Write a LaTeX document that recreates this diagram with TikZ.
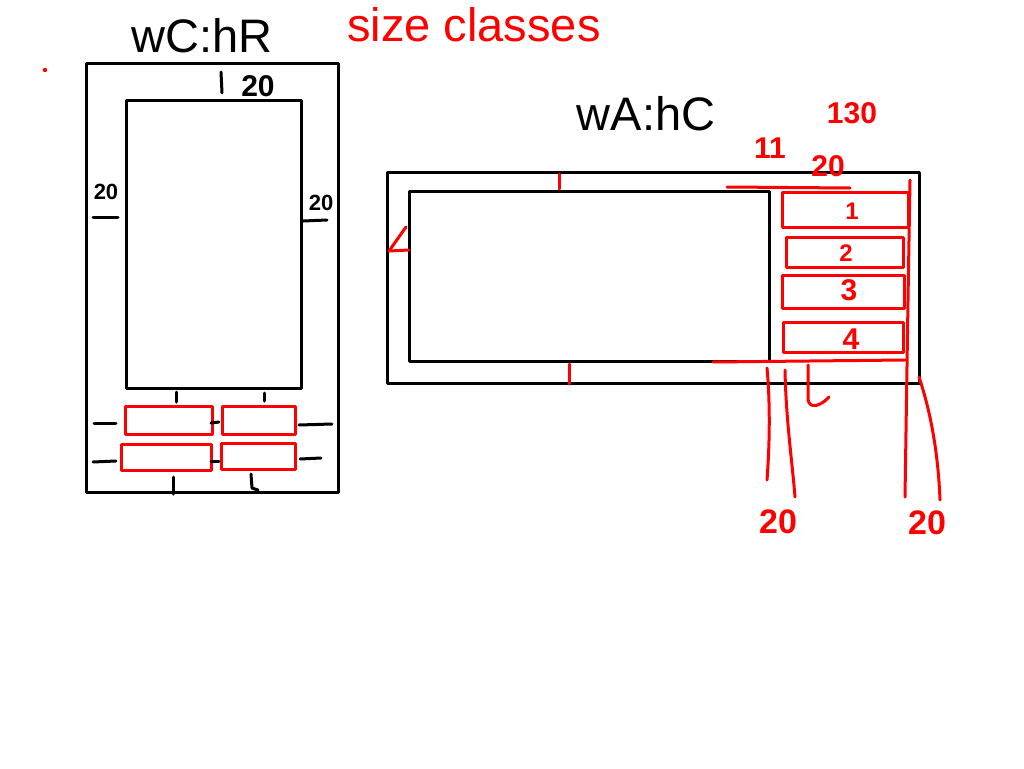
\documentclass[tikz,border=0pt]{standalone}
\usepackage{fontspec}
\setmainfont{Liberation Sans}
\definecolor{inkred}{HTML}{FF0000}
\tikzset{
  title/.style={font=\fontsize{47}{50}\selectfont, inner sep=0pt},
  hand/.style={font=\bfseries\fontsize{30}{32}\selectfont, inner sep=0pt},
  slot/.style={draw=inkred, line width=3pt},
}
\begin{document}
\begin{tikzpicture}[x=1pt, y=-1pt, line width=3pt, line cap=round, line join=round]
  \useasboundingbox (0,0) rectangle (1024,768);
  % titles
  \node[title] (wchr) at (202,36) {wC:hR};
  \node[title, text=inkred] (sizecl) at (474,25) {size classes};
  \node[title] (wahc) at (646,114) {wA:hC};
  \fill[inkred] (45,70) circle (2.2);

  % compact width, regular height
  \draw (86,63) rectangle (338,492);
  \draw (126,100) rectangle (301,388);
  \draw[slot] (125,406) rectangle (212,434);
  \draw[slot] (222,406) rectangle (295,434);
  \draw[slot] (121,444) rectangle (211,470);
  \draw[slot] (221,443) rectangle (295,469);
  % margin ticks
  \draw (221,72) -- (222,93);
  \node[hand] (mtop) at (258,86) {20};
  \node[hand, font=\bfseries\fontsize{22}{24}\selectfont] (mleft) at (106,192) {20};
  \draw (93,217) -- (118,217);
  \node[hand, font=\bfseries\fontsize{22}{24}\selectfont] (mright) at (321,203) {20};
  \draw (303,221) -- (327,220);
  \draw (176,392) -- (176,402);
  \draw (264,393) -- (264,401);
  \draw (94,423) -- (116,423);
  \draw (93,462) -- (116,461);
  \draw (211,423) -- (219,422);
  \draw (211,461) -- (219,461);
  \draw (299,425) -- (332,424);
  \draw (300,459) -- (321,458);
  \draw (173,477) -- (173,494);
  \draw (251,474) -- (252,488) -- (258,490);

  % any width, compact height
  \draw (387,172) rectangle (919,383);
  \draw (409,191) rectangle (769,361);
  \draw[inkred] (559,174) -- (559,189);
  \draw[inkred] (569,364) -- (569,384);
  \draw[inkred] (406,227) -- (389,251) -- (409,250);
  \draw[slot] (782,192) rectangle (908,227);
  \draw[slot] (786,237) rectangle (903,267);
  \draw[slot] (782,275) rectangle (904,308);
  \draw[slot] (783,322) rectangle (903,352);
  \node[hand, text=inkred, font=\bfseries\fontsize{24}{26}\selectfont] (slota) at (852,211) {1};
  \node[hand, text=inkred, font=\bfseries\fontsize{24}{26}\selectfont] (slotb) at (846,253) {2};
  \node[hand, text=inkred] (slotc) at (849,290) {3};
  \node[hand, text=inkred] (slotd) at (851,339) {4};
  % measurements
  \draw[inkred] (727,187) -- (850,188);
  \draw[inkred] (713,362) -- (905,360);
  \draw[inkred] (910,180) -- (908,300) -- (905,497);
  \draw[inkred] (919,377) .. controls (930,410) and (938,450) .. (940,500);
  \draw[inkred] (767,368) .. controls (770,400) and (770,440) .. (767,480);
  \draw[inkred] (785,370) .. controls (786,420) and (792,460) .. (795,497);
  \draw[inkred] (808,365) -- (808,400) .. controls (810,410) and (822,405) .. (829,397);
  \node[hand, text=inkred] (sp) at (770,148) {11};
  \node[hand, text=inkred] (wd) at (852,113) {130};
  \node[hand, text=inkred] (top) at (828,166) {20};
  \node[hand, text=inkred, font=\bfseries\fontsize{34}{36}\selectfont] (botl) at (778,522) {20};
  \node[hand, text=inkred, font=\bfseries\fontsize{34}{36}\selectfont] (botr) at (927,523) {20};
\end{tikzpicture}
\end{document}
